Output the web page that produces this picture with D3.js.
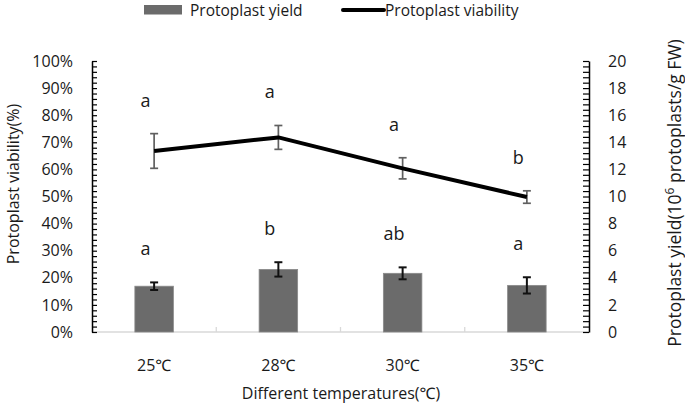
<!DOCTYPE html>
<html>
<head>
<meta charset="utf-8">
<script src="https://cdn.jsdelivr.net/npm/d3@7"></script>
<style>
  html, body { margin: 0; padding: 0; background: #fff; }
  svg { display: block; }
  text { font-family: "Open Sans", "Noto Sans", sans-serif; fill: #1a1a1a; }
</style>
</head>
<body>
<svg id="chart" width="685" height="410"></svg>
<script>
// ---- data ----
const categories = ["25℃", "28℃", "30℃", "35℃"];
const yieldValues = [3.38, 4.62, 4.33, 3.44];          // 10^6 protoplasts / g FW
const yieldErrors = [0.28, 0.53, 0.44, 0.60];
const yieldLetters = ["a", "b", "ab", "a"];
const viabilityValues = [66.8, 71.8, 60.4, 49.8];     // %
const viabilityErrors = [6.4, 4.4, 3.9, 2.3];
const viabilityLetters = ["a", "a", "a", "b"];
const leftTicks = d3.range(0, 51).map(i => i * 2);        // minor every 2%
const rightTicks = d3.range(0, 51).map(i => i * 0.4);     // minor every 0.4

// ---- layout ----
const svg = d3.select("#chart");
const plot = { left: 92, right: 589, top: 61, bottom: 332 };

const x = d3.scaleBand().domain(categories).range([plot.left, plot.right]).padding(0);
const yL = d3.scaleLinear().domain([0, 100]).range([plot.bottom, plot.top]);
const yR = d3.scaleLinear().domain([0, 20]).range([plot.bottom, plot.top]);
const cx = c => x(c) + x.bandwidth() / 2;
const barW = x.bandwidth() * 0.31;

// baseline
svg.append("line")
  .attr("x1", plot.left).attr("x2", plot.right)
  .attr("y1", plot.bottom).attr("y2", plot.bottom)
  .attr("stroke", "#d9d9d9").attr("stroke-width", 1.3);
// category separators
svg.selectAll(".sep").data(categories.slice(1)).enter().append("line")
  .attr("x1", d => x(d)).attr("x2", d => x(d))
  .attr("y1", plot.bottom).attr("y2", plot.bottom - 5)
  .attr("stroke", "#d9d9d9").attr("stroke-width", 1.3);

// bars
svg.selectAll(".bar").data(categories).enter().append("rect")
  .attr("x", d => cx(d) - barW / 2)
  .attr("y", (d, i) => yR(yieldValues[i]))
  .attr("width", barW)
  .attr("height", (d, i) => yR(0) - yR(yieldValues[i]))
  .attr("fill", "#6b6b6b")
  .attr("stroke", "#8a8a8a").attr("stroke-width", 0.8);

// bar error bars
const capW = 8;
categories.forEach((c, i) => {
  const g = svg.append("g").attr("stroke", "#111").attr("stroke-width", 2);
  const top = yR(yieldValues[i] + yieldErrors[i]);
  const bot = yR(yieldValues[i] - yieldErrors[i]);
  g.append("line").attr("x1", cx(c)).attr("x2", cx(c)).attr("y1", top).attr("y2", bot);
  g.append("line").attr("x1", cx(c) - capW / 2).attr("x2", cx(c) + capW / 2).attr("y1", top).attr("y2", top);
  g.append("line").attr("x1", cx(c) - capW / 2).attr("x2", cx(c) + capW / 2).attr("y1", bot).attr("y2", bot);
});

// line error bars
categories.forEach((c, i) => {
  const g = svg.append("g").attr("stroke", "#606060").attr("stroke-width", 1.7);
  const top = yL(viabilityValues[i] + viabilityErrors[i]);
  const bot = yL(viabilityValues[i] - viabilityErrors[i]);
  g.append("line").attr("x1", cx(c)).attr("x2", cx(c)).attr("y1", top).attr("y2", bot);
  g.append("line").attr("x1", cx(c) - capW / 2).attr("x2", cx(c) + capW / 2).attr("y1", top).attr("y2", top);
  g.append("line").attr("x1", cx(c) - capW / 2).attr("x2", cx(c) + capW / 2).attr("y1", bot).attr("y2", bot);
});

// viability line
const line = d3.line().x((d, i) => cx(categories[i])).y(d => yL(d));
svg.append("path").datum(viabilityValues)
  .attr("d", line).attr("fill", "none")
  .attr("stroke", "#000").attr("stroke-width", 4).attr("stroke-linejoin", "round");

// significance letters
const letterDx = -8.5, letterGap = 27;
svg.selectAll(".lv").data(categories).enter().append("text")
  .attr("x", d => cx(d) + letterDx)
  .attr("y", (d, i) => yL(viabilityValues[i] + viabilityErrors[i]) - letterGap)
  .attr("text-anchor", "middle").attr("font-size", 18)
  .text((d, i) => viabilityLetters[i]);
svg.selectAll(".ly").data(categories).enter().append("text")
  .attr("x", d => cx(d) + letterDx)
  .attr("y", (d, i) => yR(yieldValues[i] + yieldErrors[i]) - letterGap)
  .attr("text-anchor", "middle").attr("font-size", 18)
  .text((d, i) => yieldLetters[i]);

// left axis
const axL = d3.axisLeft(yL).tickValues(leftTicks)
  .tickSizeInner(-5).tickSizeOuter(0).tickPadding(19)
  .tickFormat(d => d % 10 === 0 ? d + "%" : "");
const gL = svg.append("g").attr("transform", `translate(${plot.left},0)`).call(axL);
gL.select(".domain").attr("stroke", "#000").attr("stroke-width", 1.5);
gL.selectAll(".tick line").attr("stroke", "#000").attr("stroke-width", 1.2);
gL.selectAll("text").attr("font-size", 16).attr("fill", "#1a1a1a")
  .attr("font-family", "'Open Sans', sans-serif");

// right axis
const axR = d3.axisRight(yR).tickValues(rightTicks)
  .tickSizeInner(-6).tickSizeOuter(0).tickPadding(19)
  .tickFormat(d => { const r = Math.round(d * 10) / 10; return (Math.abs(r % 2) < 1e-6) ? d3.format("d")(r) : ""; });
const gR = svg.append("g").attr("transform", `translate(${plot.right},0)`).call(axR);
gR.select(".domain").attr("stroke", "#000").attr("stroke-width", 1.5);
gR.selectAll(".tick line").attr("stroke", "#000").attr("stroke-width", 1.2);
gR.selectAll("text").attr("font-size", 16).attr("fill", "#1a1a1a")
  .attr("font-family", "'Open Sans', sans-serif");

// x tick labels
svg.selectAll(".xl").data(categories).enter().append("text")
  .attr("x", d => cx(d)).attr("y", 371)
  .attr("text-anchor", "middle").attr("font-size", 16)
  .text(d => d);

// axis titles
svg.append("text")
  .attr("x", 341).attr("y", 399).attr("text-anchor", "middle")
  .attr("font-size", 16).text("Different temperatures(℃)");

svg.append("text")
  .attr("transform", "translate(19,184) rotate(-90)")
  .attr("text-anchor", "middle").attr("font-size", 16)
  .text("Protoplast viability(%)");

const rt = svg.append("text")
  .attr("transform", "translate(681,193) rotate(-90)")
  .attr("text-anchor", "middle").attr("font-size", 17.5);
rt.append("tspan").text("Protoplast yield(10");
rt.append("tspan").attr("dy", -7).attr("font-size", 12).text("6");
rt.append("tspan").attr("dy", 7).text(" protoplasts/g FW)");

// legend
svg.append("rect").attr("x", 144).attr("y", 5).attr("width", 38).attr("height", 9.5)
  .attr("fill", "#6b6b6b");
svg.append("text").attr("x", 190).attr("y", 16).attr("font-size", 15.5).text("Protoplast yield");
svg.append("line").attr("x1", 343).attr("x2", 384).attr("y1", 10).attr("y2", 10)
  .attr("stroke", "#000").attr("stroke-width", 4).attr("stroke-linecap", "round");
svg.append("text").attr("x", 385).attr("y", 16).attr("font-size", 15.5).text("Protoplast viability");
</script>
</body>
</html>
